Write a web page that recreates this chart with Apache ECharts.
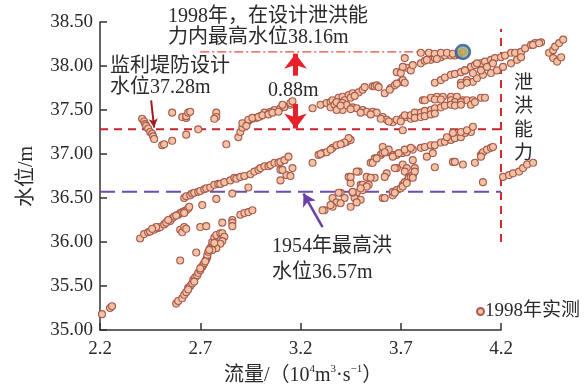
<!DOCTYPE html>
<html><head><meta charset="utf-8">
<script src="https://cdn.jsdelivr.net/npm/echarts@6/dist/echarts.min.js"></script>
<style>html,body{margin:0;padding:0;background:#fff}#c{width:585px;height:388px}</style>
</head><body><div id="c"></div>
<script>
// ---- tick labels ----
const xTickLabels = ['2.2','2.7','3.2','3.7','4.2'];
const yTickLabels = ['35.00','35.50','36.00','36.50','37.00','37.50','38.00','38.50'];

// ---- reference levels ----
const designLevel = 37.28;   // 监利堤防设计水位
const flood1954 = 36.57;     // 1954年最高洪水位
const max1998 = 38.16;       // 1998年设计泄洪能力内最高水位
const capacityQ = 4.2;       // 泄洪能力
const maxPoint = [[4.01, 38.16]];

// ---- 1998 observed stage–discharge points (10^4 m3/s, m) ----
const segLowLeft = [[2.21,35.18],[2.25,35.25],[2.26,35.27]];
const segA = [[2.40,36.04],[2.42,36.09],[2.44,36.11],[2.45,36.12],[2.47,36.14],[2.49,36.16],[2.50,36.17],[2.52,36.20],[2.53,36.22],[2.55,36.24],[2.56,36.27],[2.57,36.29],[2.59,36.31],[2.60,36.33],[2.61,36.34],[2.62,36.35],[2.63,36.36],[2.64,36.38],[2.645,36.40],[2.62,36.33],[2.58,36.30],[2.54,36.25],[2.48,36.17],[2.46,36.15]];
const segMid = [[2.60,36.14],[2.61,36.11],[2.62,36.17],[2.63,36.15],[2.60,35.79],[2.68,35.88],[2.71,36.42],[2.70,36.17],[2.73,36.18],[2.78,36.49],[2.81,36.22],[2.86,36.25],[2.86,36.22],[2.86,36.18],[2.90,36.31],[2.92,36.33],[2.94,36.34],[2.96,36.36],[2.94,36.62],[2.86,36.55]];
const segB = [[2.58,35.30],[2.59,35.33],[2.61,35.36],[2.62,35.40],[2.63,35.43],[2.64,35.48],[2.65,35.50],[2.66,35.53],[2.665,35.57],[2.675,35.60],[2.685,35.62],[2.69,35.65],[2.70,35.68],[2.71,35.72],[2.715,35.74],[2.72,35.76],[2.73,35.80],[2.735,35.83],[2.735,35.85],[2.74,35.89],[2.75,35.93],[2.76,35.97],[2.76,36.00],[2.77,36.05],[2.78,36.08],[2.80,36.10],[2.81,36.10],[2.82,36.06],[2.81,36.01],[2.80,35.98],[2.78,35.93],[2.76,35.91],[2.77,35.99],[2.64,35.46],[2.67,35.55],[2.70,35.70],[2.725,35.78],[2.745,35.91]];
const segC = [[2.62,36.50],[2.63,36.52],[2.65,36.53],[2.66,36.55],[2.67,36.56],[2.69,36.57],[2.70,36.58],[2.72,36.60],[2.73,36.61],[2.75,36.62],[2.77,36.65],[2.79,36.66],[2.80,36.66],[2.82,36.68],[2.85,36.70],[2.87,36.73],[2.88,36.72],[2.90,36.74],[2.92,36.75],[2.95,36.77],[2.97,36.80],[2.99,36.82],[3.00,36.84],[3.02,36.86],[3.04,36.86],[3.05,36.875],[3.07,36.90],[3.09,36.90],[3.10,36.91],[3.12,36.93],[3.14,36.97],[3.10,36.82],[3.16,36.84],[3.13,36.76],[3.10,36.70],[3.15,36.75],[3.11,36.82]];
const segD = [[3.26,36.90],[3.29,36.99],[3.31,37.01],[3.33,37.02],[3.36,37.07],[3.38,37.10],[3.41,37.12],[3.43,37.14],[3.45,37.16],[3.44,37.18],[3.42,37.13],[3.40,37.11],[3.35,37.05],[3.30,37.00]];
const segE1 = [[3.55,36.90],[3.57,36.95],[3.60,36.99],[3.61,37.01],[3.63,37.02],[3.66,36.99],[3.68,36.99],[3.71,37.01],[3.73,37.02],[3.76,37.05],[3.61,37.08],[3.64,37.05],[3.62,37.02],[3.66,36.97],[3.69,37.01],[3.72,37.05],[3.75,37.07],[3.76,36.93],[3.71,36.88],[3.73,36.84],[3.68,36.84],[3.56,36.90],[3.58,36.95],[3.67,36.84],[3.72,36.80],[3.74,36.74],[3.77,36.84]];
const segE2 = [[3.44,36.74],[3.49,36.80],[3.53,36.74],[3.57,36.73],[3.63,36.78],[3.45,36.67],[3.50,36.65],[3.54,36.65],[3.51,36.59],[3.48,36.56],[3.40,36.56],[3.36,36.50],[3.38,36.45],[3.42,36.50],[3.47,36.50],[3.50,36.48],[3.45,36.40],[3.36,36.40],[3.32,36.36],[3.40,36.44],[3.31,36.36],[3.35,36.42],[3.39,36.56],[3.46,36.56],[3.48,36.45],[3.55,36.73],[3.62,36.74],[3.51,36.65],[3.53,36.63],[3.50,36.61],[3.46,36.57],[3.45,36.74],[3.48,36.80]];
const segE3 = [[3.61,36.50],[3.62,36.50],[3.66,36.53],[3.66,36.57],[3.68,36.59],[3.70,36.61],[3.71,36.65],[3.72,36.68],[3.74,36.73],[3.75,36.74],[3.76,36.76],[3.77,36.80],[3.67,36.56],[3.71,36.63],[3.73,36.67],[3.76,36.73]];
const segI = [[3.80,37.07],[3.82,37.08],[3.85,37.10],[3.87,37.10],[3.90,37.13],[3.92,37.14],[3.95,37.16],[3.97,37.18],[4.00,37.19],[4.02,37.24],[4.05,37.25],[3.93,37.19],[3.96,37.24],[4.00,37.25],[4.03,37.27],[4.06,37.31],[3.83,36.97],[3.86,37.01],[3.87,36.85],[3.96,36.91],[3.97,36.91],[4.01,36.88],[4.07,36.90],[4.11,36.68],[4.10,36.99],[4.11,37.02],[4.13,37.05],[4.15,37.07],[4.16,37.08],[4.10,36.97]];
const segBeyond = [[4.21,36.74],[4.24,36.76],[4.26,36.78],[4.29,36.80],[4.31,36.84],[4.33,36.88],[4.36,36.90]];
const segF = [[2.41,37.40],[2.42,37.37],[2.425,37.34],[2.43,37.32],[2.44,37.29],[2.45,37.25],[2.46,37.23],[2.465,37.20],[2.47,37.17],[2.51,37.10],[2.52,37.11],[2.56,37.15],[2.56,37.47],[2.61,37.42],[2.63,37.41],[2.63,37.43],[2.64,37.47],[2.65,37.48],[2.63,37.22],[2.69,37.28],[2.78,37.47],[2.78,37.42],[2.77,37.40],[2.83,37.11]];
const segG = [[2.89,37.19],[2.90,37.25],[2.91,37.30],[2.92,37.34],[2.94,37.375],[2.96,37.40],[2.98,37.41],[3.00,37.43],[3.02,37.47],[3.05,37.48],[3.07,37.50],[3.10,37.52],[3.12,37.535],[3.15,37.56],[2.91,37.35],[2.94,37.39],[2.96,37.41],[2.99,37.42],[3.01,37.44],[3.04,37.45],[3.06,37.47],[3.09,37.48],[2.93,37.32],[3.11,37.56],[3.15,37.58],[3.16,37.60],[3.26,37.52],[3.30,37.56]];
const segH = [[3.33,37.58],[3.35,37.59],[3.36,37.61],[3.39,37.64],[3.41,37.65],[3.44,37.67],[3.46,37.69],[3.49,37.70],[3.51,37.73],[3.52,37.76],[3.35,37.53],[3.37,37.56],[3.40,37.58],[3.41,37.50],[3.38,37.50],[3.42,37.61],[3.45,37.64],[3.47,37.66],[3.56,37.77],[3.57,37.77]];
const segG2 = [[3.38,37.59],[3.41,37.58],[3.43,37.556],[3.46,37.53],[3.48,37.52],[3.51,37.50],[3.53,37.48],[3.56,37.48],[3.58,37.47],[3.61,37.42],[3.63,37.39],[3.66,37.36],[3.68,37.39],[3.71,37.41],[3.73,37.42],[3.76,37.43],[3.78,37.44],[3.40,37.55],[3.45,37.51],[3.50,37.47],[3.55,37.45],[3.60,37.40],[3.64,37.37],[3.70,37.37],[3.75,37.40],[3.71,37.27]];
const segL = [[3.81,37.61],[3.85,37.64],[3.88,37.65],[3.91,37.65],[3.95,37.65],[3.98,37.65],[4.01,37.61],[4.03,37.61],[4.06,37.61],[4.10,37.64],[4.12,37.64],[3.82,37.61],[3.87,37.62],[3.90,37.62],[3.95,37.61],[3.97,37.59],[4.00,37.59],[4.05,37.56],[4.07,37.59],[3.72,37.44],[3.75,37.44],[3.77,37.47],[3.80,37.47],[3.82,37.49],[3.85,37.50],[3.87,37.52],[3.90,37.53],[3.92,37.55],[3.95,37.56],[3.97,37.55],[4.00,37.56],[3.77,37.41],[3.80,37.42],[3.82,37.43],[3.85,37.45],[3.87,37.46]];
const segJ = [[3.62,37.69],[3.65,37.75],[3.67,37.78],[3.70,37.82],[3.71,37.84],[3.72,37.81],[3.58,37.78],[3.59,37.76],[3.645,37.73],[3.68,37.80],[3.72,38.09],[3.68,37.93],[3.70,37.92],[3.73,37.98],[3.75,37.95],[3.71,37.99]];
const segTop = [[3.76,38.01],[3.80,38.03],[3.82,38.06],[3.85,38.07],[3.87,38.09],[3.90,38.10],[3.92,38.12],[3.95,38.12],[3.97,38.12],[3.80,38.15],[3.84,38.15],[3.87,38.14],[3.90,38.15],[3.93,38.15],[3.96,38.14],[3.99,38.13],[3.83,38.07],[3.88,38.08]];
const segK = [[3.87,37.81],[3.90,37.84],[3.92,37.87],[3.95,37.90],[3.97,37.91],[4.00,37.93],[4.02,37.95],[4.05,37.99],[4.07,38.01],[4.10,38.03],[4.12,38.05],[4.15,38.07],[4.17,38.09],[4.20,38.10],[4.22,38.12],[4.25,38.15],[4.27,38.15],[4.30,38.16],[4.32,38.20],[4.35,38.24],[4.37,38.26],[4.40,38.27],[4.00,37.81],[4.03,37.84],[4.06,37.82],[4.08,37.86],[4.11,37.90],[4.15,37.92],[4.18,37.95],[4.21,37.99],[4.25,38.03],[4.28,38.07],[4.30,38.10],[4.06,37.92],[4.10,37.95],[4.13,37.99],[4.16,38.03],[4.08,38.03],[4.02,37.95],[4.00,37.78],[4.03,37.81],[4.36,38.24],[4.39,38.26]];
const segFarRight = [[4.44,38.15],[4.46,38.18],[4.47,38.22],[4.49,38.26],[4.51,38.30],[4.46,38.09],[4.48,38.05],[4.50,38.10]];

const obs1998 = [].concat(segLowLeft, segA, segMid, segB, segC, segD, segE1, segE2, segE3, segI, segBeyond,
  segF, segG, segH, segG2, segL, segJ, segTop, segK, segFarRight);

const SERIF = '"Liberation Serif","Noto Sans CJK SC",serif';
const TXT = '#2a2a2a';

function tickLabel(list, v, d) {
  for (const s of list) if (Math.abs(parseFloat(s) - v) < 1e-6) return s;
  return v.toFixed(d);
}

const chart = echarts.init(document.getElementById('c'), null, {renderer: 'canvas'});
chart.setOption({
  animation: false,
  backgroundColor: '#fff',
  grid: {left: 100, right: 84, top: 22, bottom: 58, containLabel: false},
  xAxis: {
    type: 'value', min: 2.2, max: capacityQ, interval: 0.5,
    axisLine: {lineStyle: {color: '#333', width: 1.5}},
    axisTick: {inside: true, length: 7, lineStyle: {color: '#333', width: 1.5}},
    axisLabel: {margin: 10, fontSize: 19, fontFamily: SERIF, color: TXT, formatter: v => tickLabel(xTickLabels, v, 1)},
    splitLine: {show: false}
  },
  yAxis: {
    type: 'value', min: 35, max: 38.5, interval: 0.5,
    axisLine: {show: true, lineStyle: {color: '#333', width: 1.5}},
    axisTick: {show: true, inside: true, length: 7, lineStyle: {color: '#333', width: 1.5}},
    axisLabel: {margin: 7, fontSize: 19, fontFamily: SERIF, color: TXT, formatter: v => tickLabel(yTickLabels, v, 2)},
    splitLine: {show: false}
  },
  legend: {
    data: ['1998年实测'], left: 471, top: 297, icon: 'circle', itemWidth: 7, itemHeight: 7, itemGap: 4,
    textStyle: {fontSize: 19, fontFamily: SERIF, color: TXT, padding: [0, 0, 0, -4]}
  },
  series: [
    {type: 'line', name: 'design', data: [[2.2, designLevel], [capacityQ, designLevel]], symbol: 'none', silent: true, z: 1,
     lineStyle: {color: '#c8232b', width: 2, type: [8, 6]}},
    {type: 'line', name: 'f1954', data: [[2.2, flood1954], [capacityQ, flood1954]], symbol: 'none', silent: true, z: 1,
     lineStyle: {color: '#6b4cb0', width: 2, type: [15, 7]}},
    {type: 'line', name: 'cap', data: [[capacityQ, 36.0], [capacityQ, 38.42]], symbol: 'none', silent: true, z: 1,
     lineStyle: {color: '#d22a2a', width: 2, type: [8, 6]}},
    {type: 'line', name: 'max98', data: [[2.7, max1998], [3.98, max1998]], symbol: 'none', silent: true, z: 1,
     lineStyle: {color: '#e84a40', width: 1.2, type: [9, 3, 2, 3]}},
    {type: 'scatter', name: '1998年实测', data: obs1998, symbol: 'circle', symbolSize: 7, clip: false, z: 3,
     itemStyle: {color: '#f1c3a2', borderColor: '#a95a4e', borderWidth: 1.1, opacity: 1}},
    {type: 'scatter', name: 'maxpt', data: maxPoint, symbolSize: 14, clip: false, z: 4, silent: true,
     itemStyle: {color: '#86b060', borderColor: '#2f50b5', borderWidth: 2.5}},
    {type: 'scatter', name: 'maxpt2', data: maxPoint, symbolSize: 6, clip: false, z: 5, silent: true,
     itemStyle: {color: '#e7a35e', borderColor: '#c07050', borderWidth: 0.5}},
    // big red double arrow (0.88 m)
    {type: 'line', name: 'arrowRed', data: [], z: 6, markLine: {
      silent: true, symbol: ['none', 'arrow'], symbolSize: [17, 15], label: {show: false},
      lineStyle: {color: '#e8202a', width: 5, type: 'solid'},
      data: [
        [{coord: [3.175, 37.89]}, {coord: [3.175, max1998 - 0.02]}],
        [{coord: [3.175, 37.57]}, {coord: [3.175, designLevel + 0.01]}]
      ]}},
    // purple arrow
    {type: 'line', name: 'arrowPurple', data: [], z: 6, markLine: {
      silent: true, symbol: ['none', 'arrow'], symbolSize: [11, 12], label: {show: false},
      lineStyle: {color: '#6a3fa8', width: 2.5, type: 'solid'},
      data: [[{coord: [3.31, 36.17]}, {coord: [3.215, flood1954 - 0.02]}]]}},
    // dark red thin arrow
    {type: 'line', name: 'arrowDark', data: [], z: 6, markLine: {
      silent: true, symbol: ['none', 'arrow'], symbolSize: [7, 9], label: {show: false},
      lineStyle: {color: '#a51c1c', width: 2, type: 'solid'},
      data: [[{coord: [2.455, 37.61]}, {coord: [2.47, designLevel + 0.02]}]]}}
  ],
  graphic: [
    {type: 'text', left: 168, top: 6, style: {text: '1998年，在设计泄洪能\n力内最高水位38.16m', fontSize: 20, lineHeight: 21, fontFamily: SERIF, fill: TXT}},
    {type: 'text', left: 110, top: 56, style: {text: '监利堤防设计\n水位37.28m', fontSize: 20, lineHeight: 21, fontFamily: SERIF, fill: TXT}},
    {type: 'text', left: 268, top: 81, style: {text: '0.88m', fontSize: 20, fontFamily: SERIF, fill: TXT}},
    {type: 'text', left: 272, top: 234, style: {text: '1954年最高洪\n水位36.57m', fontSize: 20, lineHeight: 26, fontFamily: SERIF, fill: TXT}},
    {type: 'text', left: 514, top: 72, style: {text: '泄\n洪\n能\n力', fontSize: 19, lineHeight: 23.5, fontFamily: SERIF, fill: TXT}},
    {type: 'text', left: 17, top: 146, rotation: Math.PI / 2, style: {text: '水位/m', fontSize: 20, fontFamily: SERIF, fill: TXT}},
    {type: 'text', left: 224, top: 364, style: {
      text: '流量/（10{s|4}m{s|3}·s{s|−1}）', fontSize: 20, fontFamily: SERIF, fill: TXT, lineHeight: 24,
      rich: {s: {fontSize: 11, fontFamily: SERIF, fill: TXT, verticalAlign: 'top', lineHeight: 24, padding: [0, 0, 8, 0]}}
    }}
  ]
});
</script></body></html>
